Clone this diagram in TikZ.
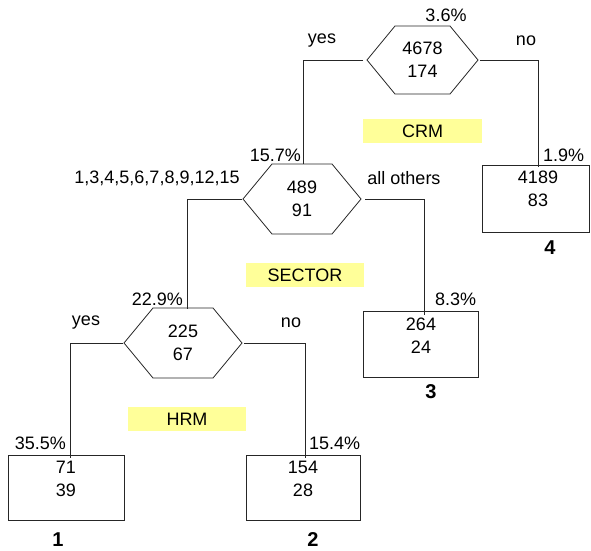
\documentclass[tikz,border=0pt]{standalone}
\usepackage{fontspec}
\setmainfont{Liberation Sans}
\definecolor{hiyellow}{RGB}{255,255,153}
\newcommand\hexdraw[2]{\draw[conn] ([xshift=#2]#1.north west) -- ([xshift=-#2]#1.north east) -- (#1.east) -- ([xshift=-#2]#1.south east) -- ([xshift=#2]#1.south west) -- (#1.west) -- cycle;}
\begin{document}
\begin{tikzpicture}[x=1pt,y=-1pt,
  every node/.style={font=\fontsize{18}{23}\selectfont, inner sep=0pt, outer sep=0pt},
  conn/.style={line width=0.8pt, black!85},
  hexa/.style={align=center, minimum height=70pt, minimum width=118pt},
  leaf/.style={draw=black!85, line width=0.8pt, minimum height=65pt, minimum width=116pt},
  num/.style={align=center},
  lbl/.style={},
  leafno/.style={font=\fontsize{20}{24}\selectfont\bfseries},
  tag/.style={fill=hiyellow, minimum height=24pt, minimum width=118pt}
]
\useasboundingbox (0,0) rectangle (591,550);

% ---------- root ----------
\node[hexa, minimum width=111pt, minimum height=68pt] (h0) at (422.5,60) {4678\\174};
\hexdraw{h0}{28pt}
\node[lbl] (p0) at (446,15) {3.6\%};
\node[lbl] (y0) at (322,41) {yes};
\node[lbl] (n0) at (526,41) {no};
\node[tag, minimum width=119pt] (crm) at (422.5,131) {CRM};

% ---------- SECTOR ----------
\node[hexa] (h1) at (302,199) {489\\91};
\hexdraw{h1}{29pt}
\node[lbl, anchor=east] (p1) at (301,155) {15.7\%};
\node[lbl] (y1) at (157,178) {1,3,4,5,6,7,8,9,12,15};
\node[lbl] (n1) at (404,178) {all others};
\node[tag] (sec) at (305,275) {SECTOR};

% ---------- leaf 4 ----------
\node[leaf, minimum width=107pt, minimum height=67pt] (b4) at (536,198.5) {};
\node[num] (t4) at (538,188.5) {4189\\83};
\node[lbl, anchor=west] (p4) at (543,155) {1.9\%};
\node[leafno] (l4) at (550,248) {4};

% ---------- HRM ----------
\node[hexa] (h2) at (183,343) {225\\67};
\hexdraw{h2}{29pt}
\node[lbl, anchor=east] (p2) at (183,299) {22.9\%};
\node[lbl] (y2) at (86,323) {yes};
\node[lbl] (n2) at (291,323) {no};
\node[tag] (hrm) at (187,419) {HRM};

% ---------- leaf 3 ----------
\node[leaf, minimum width=115pt, minimum height=66pt] (b3) at (420.5,344) {};
\node[num] (t3) at (421,335.5) {264\\24};
\node[lbl, anchor=west] (p3) at (435,299) {8.3\%};
\node[leafno] (l3) at (431,392) {3};

% ---------- leaf 1 ----------
\node[leaf] (b1) at (66,487.5) {};
\node[num] (t1) at (66,479) {71\\39};
\node[lbl, anchor=east] (p1b) at (66,443) {35.5\%};
\node[leafno] (l1) at (58,540) {1};

% ---------- leaf 2 ----------
\node[leaf, minimum width=114pt] (b2) at (303,487.5) {};
\node[num] (t2) at (303,479) {154\\28};
\node[lbl, anchor=west] (p2b) at (309,443) {15.4\%};
\node[leafno] (l2) at (313,540) {2};

% ---------- connectors ----------
\draw[conn] ([xshift=-4pt]h0.west) -| ([xshift=1pt]h1.north);
\draw[conn] ([xshift=2pt]h0.east) -| ([xshift=2.5pt,yshift=-2pt]b4.north);
\draw[conn] ([xshift=-1pt]h1.west) -| ([xshift=4pt,yshift=-1pt]h2.north);
\draw[conn] ([xshift=4pt]h1.east) -| ([xshift=3.5pt,yshift=-4pt]b3.north);
\draw[conn] ([xshift=-1pt]h2.west) -| ([xshift=4pt,yshift=-3pt]b1.north);
\draw[conn] ([xshift=2pt]h2.east) -| ([xshift=2pt,yshift=-3pt]b2.north);
\end{tikzpicture}
\end{document}
